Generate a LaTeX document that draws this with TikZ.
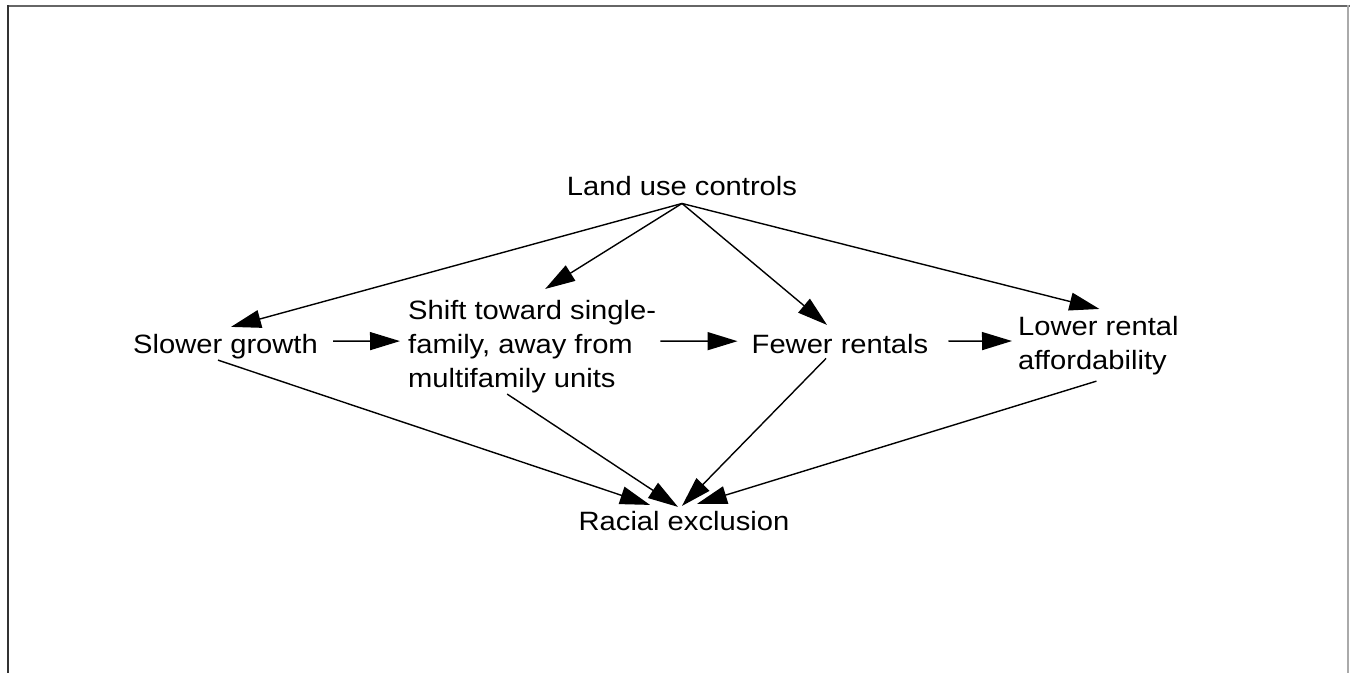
\documentclass[tikz,border=0pt]{standalone}
\usepackage{fontspec}
\setmainfont{Liberation Sans}[FakeStretch=1.1]
\usetikzlibrary{arrows.meta,calc}
\begin{document}
\begin{tikzpicture}[x=1pt,y=-1pt,
  lbl/.style={inner sep=0pt, font=\fontsize{26.5}{34}\selectfont},
  arr/.style={line width=1.4pt, -{Triangle[length=30pt,width=18pt]}}]
\useasboundingbox (0,0) rectangle (1350,673);
% frame
\draw[line width=2pt, color={rgb,255:red,102;green,102;blue,102}] (7,6) -- (1350,6);
\draw[line width=2pt, color={rgb,255:red,51;green,51;blue,51}] (7.5,5) -- (7.5,673);
\draw[line width=1.5pt, color={rgb,255:red,170;green,170;blue,170}] (1348,5) -- (1348,673);
% nodes
\node[lbl, anchor=base] (lu) at (682,195) {Land use controls};
\node[lbl, anchor=base] (sg) at (225.5,353) {Slower growth};
\node[lbl, anchor=west, align=left] (sh) at (408,347.1) {Shift toward single-\\family, away from\\multifamily units};
\node[lbl, anchor=base] (fr) at (840,353) {Fewer rentals};
\node[lbl, anchor=west, align=left] (lr) at (1018,345.2) {Lower rental\\affordability};
\node[lbl, anchor=base] (rx) at (684,530) {Racial exclusion};
% connectors from Land use controls
\coordinate (lus) at ($(lu.south)+(0,8)$);
\draw[arr] (lus) -- ($(sg.north)+(5.5,-6.7)$);
\draw[arr] (lus) -- ($(sh.north)+(13,-11.6)$);
\draw[arr] (lus) -- ($(fr.north)+(-13,-8.7)$);
\draw[arr] (lus) -- ($(lr.north)+(1,-6.7)$);
% horizontal chain
\draw[arr] ($(sg.east)+(15,-5)$) -- ($(sh.west)+(-8,-6)$);
\draw[arr] ($(sh.east)+(4,-6)$) -- ($(fr.west)+(-14,-2.35)$);
\draw[arr] ($(fr.east)+(20,-2.35)$) -- ($(lr.west)+(-6,-4.2)$);
% to Racial exclusion
\draw[arr] ($(sg.south)+(-7.5,1.4)$) -- ($(rx.north)+(-34,-5.7)$);
\draw[arr] ($(sh.south)+(-25,0.4)$) -- ($(rx.north)+(-6,-3.7)$);
\draw[arr] ($(fr.south)+(-14,5)$) -- ($(rx.north)+(-2,-4.7)$);
\draw[arr] ($(lr.south)+(-2,6.4)$) -- ($(rx.north)+(13,-6.7)$);
\end{tikzpicture}
\end{document}
